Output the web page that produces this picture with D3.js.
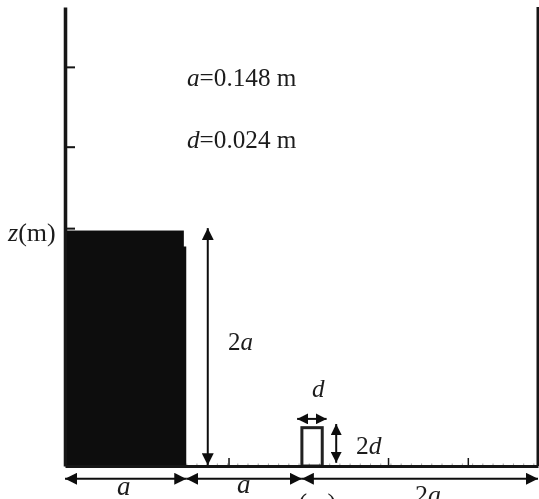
<!DOCTYPE html>
<html lang="en">
<head>
<meta charset="UTF-8">
<title>Dam break setup</title>
<script src="https://cdn.jsdelivr.net/npm/d3@7"></script>
<style>
    html, body { margin: 0; padding: 0; background: #fff; overflow: hidden; }
    svg { display: block; }
    text { font-family: "Liberation Serif", serif; fill: #1c1c1c; }
    .axis path, .axis line { stroke: #151515; }
    .axis text { display: none; }
</style>
</head>
<body>
<div id="container"></div>
<script>
    // values in metres
    const xDomain = [0, 0.593];
    const zDomain = [0, 0.575];
    const xTicks = [0.205, 0.405, 0.505];
    const zTicks = [0.298, 0.4, 0.5];
    const waterSteps = [[0, 0.152, 0.275], [0, 0.149, 0.295]];
    const obstacleX = [0.297, 0.3225];
    const obstacleZ = [0, 0.048];
    // dimension arrows in metres: from, to, fixed coordinate
    const hArrows = [[0, 0.152, -0.016], [0.152, 0.297, -0.016], [0.297, 0.593, -0.016]];
    const vArrows = [[0.001, 0.298, 0.179]];
    const smallH = [[0.291, 0.328, 0.059]];
    const smallV = [[0.004, 0.0526, 0.34]];
    const infoLabels = [["a", "=0.148 m"], ["d", "=0.024 m"]];

    const width = 539, height = 499;
    const svg = d3.select("#container").append("svg")
        .attr("width", width)
        .attr("height", height);

    const x = d3.scaleLinear().domain(xDomain).range([65, 538]);
    const z = d3.scaleLinear().domain(zDomain).range([466, 7]);

    // arrow heads
    const defs = svg.append("defs");
    function addHead(id, len, wide) {
        defs.append("marker")
            .attr("id", id)
            .attr("viewBox", `0 0 ${len} ${wide}`)
            .attr("refX", len)
            .attr("refY", wide / 2)
            .attr("markerWidth", len)
            .attr("markerHeight", wide)
            .attr("markerUnits", "userSpaceOnUse")
            .attr("orient", "auto-start-reverse")
            .append("path")
            .attr("d", `M0,0L${len},${wide / 2}L0,${wide}Z`)
            .attr("fill", "#111");
    }
    addHead("head", 12, 12);
    addHead("headSmall", 11, 11);
    defs.append("filter").attr("id", "soft")
        .append("feGaussianBlur").attr("stdDeviation", 0.45);

    const g = svg.append("g").attr("filter", "url(#soft)");

    // water column, slightly stepped at the top right
    g.selectAll(".water")
        .data(waterSteps)
        .enter().append("rect")
        .attr("class", "water")
        .attr("x", d => x(d[0]))
        .attr("y", d => z(d[2]))
        .attr("width", d => x(d[1]) - x(d[0]))
        .attr("height", d => z(0) - z(d[2]))
        .attr("fill", "#111");

    // obstacle
    g.append("rect")
        .attr("x", x(obstacleX[0]))
        .attr("y", z(obstacleZ[1]))
        .attr("width", x(obstacleX[1]) - x(obstacleX[0]))
        .attr("height", z(obstacleZ[0]) - z(obstacleZ[1]))
        .attr("fill", "#fff")
        .attr("stroke", "#222")
        .attr("stroke-width", 3);

    // axes
    const axisLeft = g.append("g").attr("class", "axis")
        .attr("transform", `translate(${x(0)},0)`)
        .call(d3.axisRight(z).tickValues(zTicks).tickSize(10).tickSizeOuter(0));
    axisLeft.selectAll("line").attr("stroke-width", 2);
    axisLeft.select("path").attr("stroke-width", 3.5);

    // tiny ticks along the floor
    const minor = g.append("g").attr("class", "axis")
        .attr("transform", `translate(0,${z(0)})`)
        .call(d3.axisTop(x).tickValues(d3.range(0.152, 0.593, 0.0128)).tickSize(2.5).tickSizeOuter(0));
    minor.selectAll("line").attr("stroke-width", 1).attr("opacity", 0.4);
    minor.select("path").remove();

    const axisBottom = g.append("g").attr("class", "axis")
        .attr("transform", `translate(0,${z(0)})`)
        .call(d3.axisTop(x).tickValues(xTicks).tickSize(8).tickSizeOuter(0));
    axisBottom.selectAll("line").attr("stroke-width", 1.5);
    axisBottom.select("path").attr("stroke-width", 3);

    // right wall
    g.append("line")
        .attr("x1", x(xDomain[1])).attr("x2", x(xDomain[1]))
        .attr("y1", z(0)).attr("y2", z(zDomain[1]))
        .attr("stroke", "#151515")
        .attr("stroke-width", 3);

    // dimension arrows
    const arrow = (sel, head) => sel
        .attr("stroke", "#111")
        .attr("stroke-width", 2)
        .attr("marker-start", `url(#${head})`)
        .attr("marker-end", `url(#${head})`);

    function horizontal(data, head) {
        g.selectAll(null)
            .data(data)
            .enter().append("line")
            .attr("x1", d => x(d[0]))
            .attr("x2", d => x(d[1]))
            .attr("y1", d => z(d[2]))
            .attr("y2", d => z(d[2]))
            .call(arrow, head);
    }
    function vertical(data, head) {
        g.selectAll(null)
            .data(data)
            .enter().append("line")
            .attr("y1", d => z(d[0]))
            .attr("y2", d => z(d[1]))
            .attr("x1", d => x(d[2]))
            .attr("x2", d => x(d[2]))
            .call(arrow, head);
    }
    horizontal(hArrows, "head");
    vertical(vArrows, "head");
    horizontal(smallH, "headSmall");
    vertical(smallV, "headSmall");

    // text: first part italic unless plainFirst
    function addLabel(px, py, first, second, size, plainFirst) {
        const t = g.append("text").attr("x", px).attr("y", py).attr("font-size", size);
        t.append("tspan").attr("font-style", plainFirst ? "normal" : "italic").text(first);
        t.append("tspan").attr("font-style", plainFirst ? "italic" : "normal").text(second);
    }

    addLabel(187, 86, infoLabels[0][0], infoLabels[0][1], 25.2);
    addLabel(187, 148, infoLabels[1][0], infoLabels[1][1], 25.2);
    addLabel(8, 241, "z", "(m)", 26);
    addLabel(287, 511, "x", "(m)", 26);
    addLabel(117, 495, "a", "", 27);
    addLabel(237, 493, "a", "", 27);
    addLabel(415, 503, "2", "a", 26, true);
    addLabel(228, 350, "2", "a", 25, true);
    addLabel(312, 397, "d", "", 25);
    addLabel(356, 454, "2", "d", 25.5, true);
</script>
</body>
</html>
